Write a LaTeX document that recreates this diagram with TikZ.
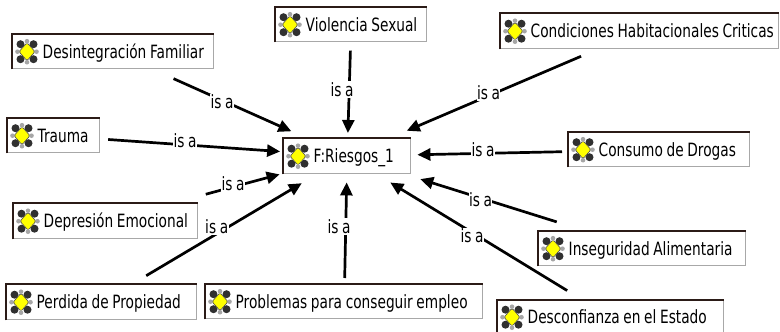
\documentclass[tikz,border=0pt]{standalone}
\usepackage{fontspec}
\setmainfont{DejaVu Sans}[FakeStretch=0.75]
\usetikzlibrary{arrows.meta}
\definecolor{boxdark}{HTML}{2B1B17}
\definecolor{boxgray}{HTML}{A8A8A8}
\definecolor{iconyellow}{HTML}{FFFF00}
\definecolor{icondark}{HTML}{303030}
\newcommand\ct[1]{\hspace*{30pt}\mbox{\spaceskip=3.6pt\relax #1}}
\newcommand\isa{\mbox{\spaceskip=3.6pt\relax is a}}
\tikzset{
  concept/.style={anchor=north west, text width=#1pt, align=left,
    minimum height=34pt, inner sep=0pt, fill=white, draw=boxgray,
    line width=1.4pt, text height=17pt, text depth=3.6pt,
    font=\fontsize{18.3}{20}\selectfont},
  darkedge/.style={draw=boxdark, line width=1.6pt},
  edge/.style={draw=black, line width=2.7pt, -{Triangle[length=13pt,width=12pt]}},
  lbl/.style={fill=white, inner xsep=0.5pt, inner ysep=1pt,
    font=\fontsize{18.3}{20}\selectfont},
  icon/.pic={
    \fill[icondark] (-6.5,-7.5) circle (4) (6.5,-7.5) circle (4)
                    (-6.5,7.5) circle (4) (6.5,7.5) circle (4);
    \fill[gray!70] (0,-10.5) circle (2.3) (0,10.5) circle (2.3)
                   (-9.5,0) circle (2.3) (9.5,0) circle (2.3);
    \filldraw[fill=iconyellow, draw=black!70, line width=0.6pt, rounded corners=1.5pt]
      (0,-9) -- (8,0) -- (0,9) -- (-8,0) -- cycle;
  }
}
\begin{document}
\begin{tikzpicture}[x=1pt,y=-1pt]
\useasboundingbox (0,0) rectangle (780,332);
% concepts
\node[concept=201] (desi) at (12,34)  {\ct{Desintegración Familiar}};
\node[concept=92]  (trau) at (7,118)  {\ct{Trauma}};
\node[concept=151] (viol) at (275,7)  {\ct{Violencia Sexual}};
\node[concept=278, minimum height=35pt] (cond) at (500,13) {\ct{Condiciones Habitacionales Criticas}};
\node[concept=127, minimum height=35pt] (ries) at (283,138) {\ct{F:Riesgos\_1}};
\node[concept=181] (cons) at (568,132) {\ct{Consumo de Drogas}};
\node[concept=184, minimum height=35pt] (depr) at (13,203) {\ct{Depresión Emocional}};
\node[concept=190, minimum height=35pt] (perd) at (6,284)  {\ct{Perdida de Propiedad}};
\node[concept=277] (prob) at (205,284) {\ct{Problemas para conseguir empleo}};
\node[concept=207] (inse) at (538,231) {\ct{Inseguridad Alimentaria}};
\node[concept=226, minimum height=33pt] (desc) at (497,300) {\ct{Desconfianza en el Estado}};
\foreach \n in {desi,trau,viol,cond,ries,cons,depr,perd,prob,inse,desc}{
  \draw[darkedge] (\n.south west) |- (\n.north east);
  \pic at ([xshift=15pt]\n.west) {icon};
}
% connectors
\draw[edge, shorten <=22.7pt, shorten >=16.5pt] (desi) -- (ries) node[lbl] (l1) at (222,102) {\isa};
\draw[edge, shorten <=7.8pt,  shorten >=2.9pt]  (trau) -- (ries) node[lbl] (l2) at (185,141) {\isa};
\draw[edge, shorten <=8.3pt,  shorten >=5pt]    (viol) -- (ries) node[lbl] (l3) at (342,89.5) {\isa};
\draw[edge, shorten <=17.5pt, shorten >=18.5pt] (cond) -- (ries) node[lbl] (l4) at (488.5,93) {\isa};
\draw[edge, shorten <=6pt,    shorten >=6pt]    (cons) -- (ries) node[lbl] (l5) at (483,150) {\isa};
\draw[edge, shorten <=33.7pt, shorten >=3.5pt]  (depr) -- (ries) node[lbl] (l6) at (233,183.5) {\isa};
\draw[edge, shorten <=16.2pt, shorten >=17.3pt] (perd) -- (ries) node[lbl] (l7) at (216.7,227) {\isa};
\draw[edge, shorten <=6pt,    shorten >=8pt]    (prob) -- (ries) node[lbl] (l8) at (339,226.5) {\isa};
\draw[edge, shorten <=30.4pt, shorten >=15.8pt] (inse) -- (ries) node[lbl] (l9) at (480.5,199.7) {\isa};
\draw[edge, shorten <=18.1pt, shorten >=15.6pt] (desc) -- (ries) node[lbl] (l10) at (472,236) {\isa};
\end{tikzpicture}
\end{document}
